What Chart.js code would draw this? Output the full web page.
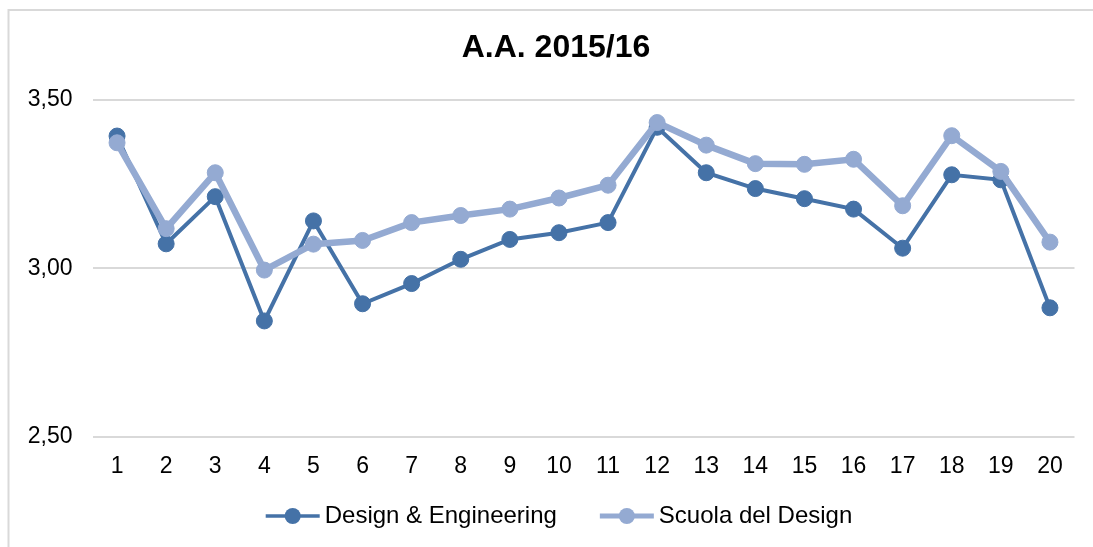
<!DOCTYPE html>
<html>
<head>
<meta charset="utf-8">
<script src="https://cdn.jsdelivr.net/npm/chart.js@4.4.1/dist/chart.umd.min.js"></script>
<style>
  html, body { margin: 0; padding: 0; background: #ffffff; }
  #wrap { width: 1093px; height: 547px; }
</style>
</head>
<body>
<div id="wrap"><canvas id="c" width="1093" height="547"></canvas></div>
<script>
const categories = ['1','2','3','4','5','6','7','8','9','10','11','12','13','14','15','16','17','18','19','20'];
const designEngineering = [3.393, 3.073, 3.213, 2.844, 3.141, 2.895, 2.955, 3.027, 3.086, 3.106, 3.136, 3.419, 3.284, 3.237, 3.207, 3.176, 3.060, 3.278, 3.263, 2.883];
const scuolaDesign = [3.373, 3.118, 3.284, 2.995, 3.072, 3.083, 3.136, 3.157, 3.176, 3.209, 3.247, 3.433, 3.366, 3.311, 3.309, 3.324, 3.186, 3.394, 3.288, 3.078];
const seriesNames = ['Design & Engineering', 'Scuola del Design'];
const titleText = 'A.A. 2015/16';
const yMin = 2.5, yMax = 3.5, yStep = 0.5;

const FONT = '"Liberation Sans", Arial, sans-serif';
const C_DE = '#4572a7';
const C_SD = '#94aad2';

const framePlugin = {
  id: 'frame',
  beforeDraw(chart) {
    const ctx = chart.ctx;
    ctx.save();
    ctx.fillStyle = '#ffffff';
    ctx.fillRect(0, 0, chart.width, chart.height);
    ctx.strokeStyle = '#d9d9d9';
    ctx.lineWidth = 2;
    ctx.strokeRect(8.5, 10, 3000, 3000);
    ctx.restore();
  }
};

const titlePlugin = {
  id: 'customTitle',
  afterDraw(chart) {
    const ctx = chart.ctx;
    ctx.save();
    ctx.font = 'bold 32px ' + FONT;
    ctx.fillStyle = '#000000';
    ctx.textAlign = 'center';
    ctx.textBaseline = 'middle';
    ctx.fillText(titleText, 556, 48);
    ctx.restore();
  }
};

const legendPlugin = {
  id: 'customLegend',
  afterDraw(chart) {
    const ctx = chart.ctx;
    ctx.save();
    ctx.font = '24px ' + FONT;
    const markerW = 54, gapText = 5, gapItems = 43, cy = 516;
    const items = chart.data.datasets.map(ds => ({
      text: ds.label, color: ds.borderColor, lw: ds.borderWidth, r: 8,
      w: markerW + gapText + ctx.measureText(ds.label).width
    }));
    let total = items.reduce((s, it) => s + it.w, 0) + gapItems * (items.length - 1);
    let x = 559 - total / 2;
    items.forEach(it => {
      ctx.strokeStyle = it.color;
      ctx.lineWidth = it.lw === 4 ? 3.5 : 5;
      ctx.beginPath();
      ctx.moveTo(x, cy);
      ctx.lineTo(x + markerW, cy);
      ctx.stroke();
      ctx.fillStyle = it.color;
      ctx.beginPath();
      ctx.arc(x + markerW / 2, cy, it.r, 0, Math.PI * 2);
      ctx.fill();
      ctx.fillStyle = '#000000';
      ctx.textAlign = 'left';
      ctx.textBaseline = 'middle';
      ctx.fillText(it.text, x + markerW + gapText, cy);
      x += it.w + gapItems;
    });
    ctx.restore();
  }
};

new Chart(document.getElementById('c'), {
  type: 'line',
  data: {
    labels: categories,
    datasets: [
      {
        label: seriesNames[0],
        data: designEngineering,
        borderColor: C_DE,
        backgroundColor: C_DE,
        borderWidth: 4,
        pointRadius: 8,
        pointBorderWidth: 1,
        pointBackgroundColor: C_DE,
        pointBorderColor: C_DE,
        tension: 0,
        order: 1
      },
      {
        label: seriesNames[1],
        data: scuolaDesign,
        borderColor: C_SD,
        backgroundColor: C_SD,
        borderWidth: 6.5,
        pointRadius: 8,
        pointBorderWidth: 1,
        pointBackgroundColor: C_SD,
        pointBorderColor: C_SD,
        tension: 0,
        order: 0
      }
    ]
  },
  options: {
    responsive: false,
    animation: false,
    devicePixelRatio: 1,
    layout: { padding: { left: 0, right: 18.5, top: 100, bottom: 49.6 } },
    plugins: {
      legend: { display: false },
      tooltip: { enabled: false },
      title: { display: false }
    },
    scales: {
      x: {
        offset: true,
        grid: { display: false, drawTicks: false },
        border: { display: false },
        ticks: {
          color: '#000000',
          font: { family: FONT, size: 23 },
          padding: 16.5,
          maxRotation: 0,
          autoSkip: false
        }
      },
      y: {
        min: yMin,
        max: yMax,
        afterFit(scale) { scale.width = 92.5; },
        grid: { color: '#d9d9d9', lineWidth: 2, drawTicks: false },
        border: { display: false },
        ticks: {
          stepSize: yStep,
          color: '#000000',
          font: { family: FONT, size: 23 },
          padding: 20,
          callback: v => v.toFixed(2).replace('.', ',')
        }
      }
    }
  },
  plugins: [framePlugin, titlePlugin, legendPlugin]
});
</script>
</body>
</html>
